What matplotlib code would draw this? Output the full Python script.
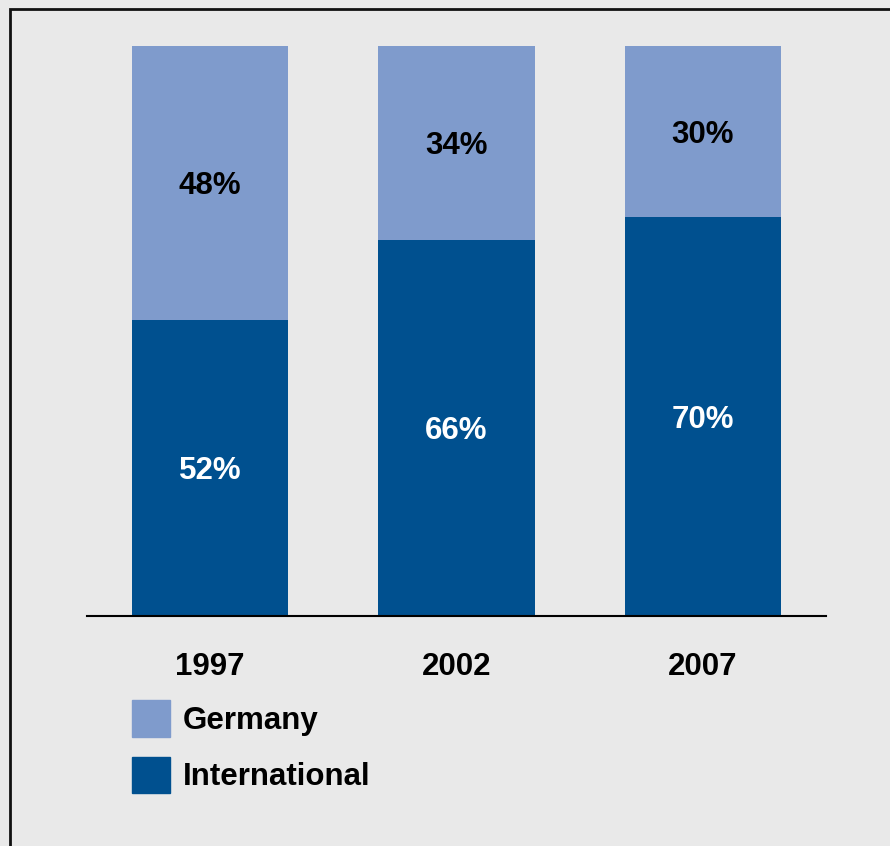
import matplotlib.pyplot as plt
from matplotlib.patches import Patch, Rectangle

years = ['1997', '2002', '2007']
international = [52, 66, 70]
germany = [48, 34, 30]

light_blue = '#7f9bcc'
dark_blue = '#00508f'
bg = '#e9e9e9'
fs = 22.5

plt.rcParams['font.family'] = ['Liberation Sans', 'DejaVu Sans']
plt.rcParams['font.weight'] = 'bold'

fig = plt.figure(figsize=(8.9, 8.46), dpi=100, facecolor=bg)
ax = fig.add_axes([87/890, 1 - 616/846, (826-87)/890, (616-46)/846])
ax.set_facecolor(bg)

x = range(len(years))
ax.bar(x, international, width=0.635, color=dark_blue, label='International')
ax.bar(x, germany, width=0.635, bottom=international, color=light_blue, label='Germany')

# percentages centred in each segment
for i in x:
    ax.text(i, international[i] / 2, '%d%%' % international[i], ha='center', va='center_baseline',
            color='white', fontsize=fs, fontweight='bold')
    ax.text(i, international[i] + germany[i] / 2, '%d%%' % germany[i], ha='center',
            va='center_baseline', color='black', fontsize=fs, fontweight='bold')

ax.set_xlim(-0.5, 2.5)
ax.set_ylim(0, 100)
ax.set_xticks(list(x))
ax.set_xticklabels(years, fontsize=fs, fontweight='bold')
ax.tick_params(axis='x', length=0, pad=26)
ax.set_yticks([])
for side in ['top', 'left', 'right']:
    ax.spines[side].set_visible(False)
ax.spines['bottom'].set_linewidth(1.5)

handles = [Patch(color=light_blue, label='Germany'), Patch(color=dark_blue, label='International')]
fig.legend(handles=handles, loc='upper left', bbox_to_anchor=(132/890, 1 - 700/846),
           frameon=False, prop={'weight': 'bold', 'size': fs},
           handlelength=1.22, handleheight=1.42, handletextpad=0.42,
           labelspacing=0.65, borderpad=0, borderaxespad=0)

# outer frame, open on the right and bottom edges
fig.patches.append(Rectangle((10/890, -0.1), 1.2, 1.1 - 9/846, transform=fig.transFigure,
                             fill=False, edgecolor='#111111', linewidth=2))

fig.savefig('out.png', dpi=100, facecolor=bg)
